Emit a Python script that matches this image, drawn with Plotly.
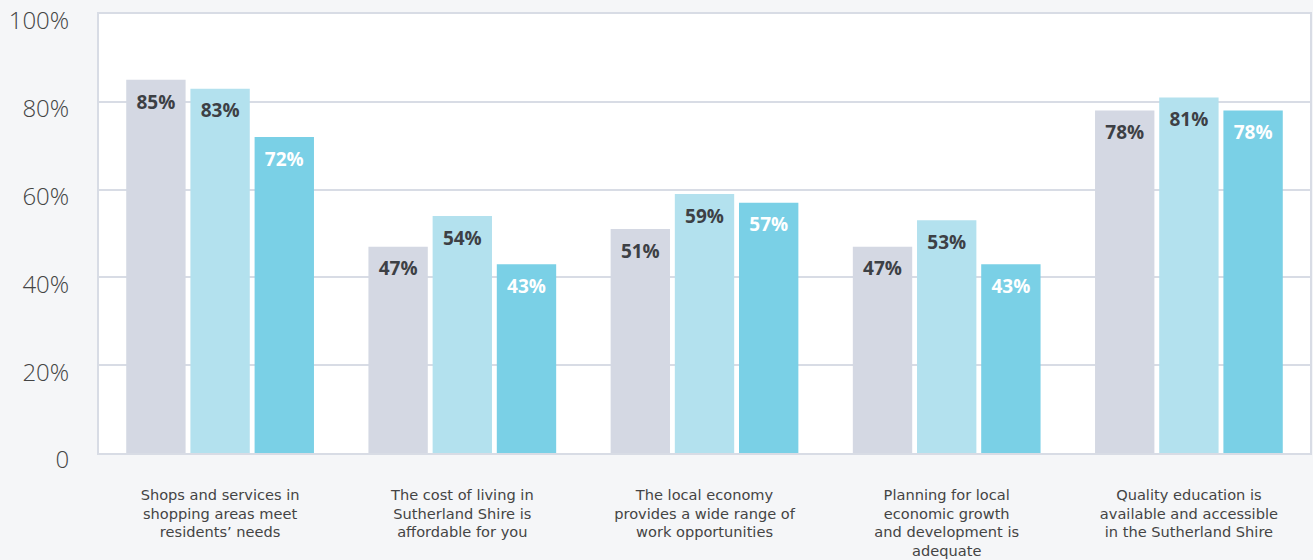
import plotly.graph_objects as go

categories = [
    "Shops and services in<br>shopping areas meet<br>residents’ needs",
    "The cost of living in<br>Sutherland Shire is<br>affordable for you",
    "The local economy<br>provides a wide range of<br>work opportunities",
    "Planning for local<br>economic growth<br>and development is<br>adequate",
    "Quality education is<br>available and accessible<br>in the Sutherland Shire",
]
series_names = ["Series A", "Series B", "Series C"]
series_a = [85, 47, 51, 47, 78]
series_b = [83, 54, 59, 53, 81]
series_c = [72, 43, 57, 43, 78]
tick_vals = [0, 20, 40, 60, 80, 100]
tick_text = ["0", "20%", "40%", "60%", "80%", "100%"]

colors = ["#d4d8e3", "#b3e1ee", "#7ad0e6"]
text_colors = ["#3d4045", "#3d4045", "#ffffff"]

# small spacer line above each value label (pads label down from bar top)
spacer = "<span style='font-size:1px'> </span><br>"

fig = go.Figure()
for name, vals, c, tc in zip(series_names, [series_a, series_b, series_c], colors, text_colors):
    fig.add_trace(go.Bar(
        x=categories, y=vals, name=name,
        marker=dict(color=c, line=dict(width=0)),
        text=[f"{spacer}{v}%" for v in vals],
        textposition="inside", insidetextanchor="end",
        textfont=dict(family="Open Sans, sans-serif", size=19, color=tc, weight="bold"),
        textangle=0, cliponaxis=False,
    ))

fig.update_layout(
    barmode="group", bargap=0.205, bargroupgap=0.075,
    width=1313, height=560,
    margin=dict(l=99, r=3, t=14, b=107),
    paper_bgcolor="#f5f6f8", plot_bgcolor="#ffffff",
    showlegend=False,
    uniformtext=dict(minsize=1, mode="show"),
)
fig.update_yaxes(
    range=[0, 100], tickvals=tick_vals, ticktext=tick_text,
    showgrid=True, gridcolor="#d8dce5", gridwidth=2,
    showline=True, linecolor="#d8dce5", linewidth=2, mirror=True,
    ticks="", ticklabelstandoff=23, ticklabelshift=7, zeroline=False,
    automargin=False,
    tickfont=dict(family="Open Sans, sans-serif", size=24, color="#444444", weight=300),
)
fig.update_xaxes(
    showline=True, linecolor="#d8dce5", linewidth=2, mirror=True,
    ticks="", ticklabelstandoff=27, automargin=False,
    tickfont=dict(family="DejaVu Sans, sans-serif", size=14.6, color="#444444"),
)
fig.write_html("out.html")
